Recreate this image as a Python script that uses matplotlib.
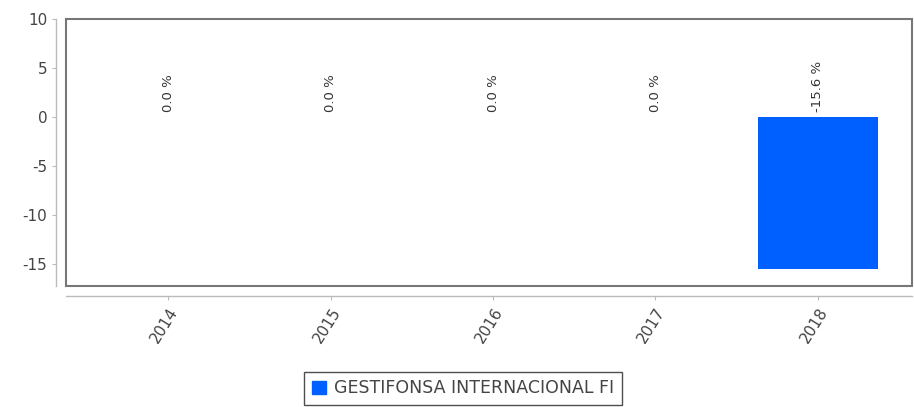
import matplotlib
matplotlib.use("Agg")
import matplotlib.pyplot as plt
from matplotlib.patches import Rectangle, Patch

plt.rcParams["axes.unicode_minus"] = False

years = ["2014", "2015", "2016", "2017", "2018"]
returns = [0.0, 0.0, 0.0, 0.0, -15.6]
series_name = "GESTIFONSA INTERNACIONAL FI"
bar_color = "#0060ff"

fig = plt.figure(figsize=(9.14, 4.07), dpi=100)
ax = fig.add_axes([66 / 914, 1 - 286 / 407, 846 / 914, 267 / 407])

x = range(len(years))
ax.bar(x, returns, width=0.74, color=bar_color, zorder=2)
ax.set_xlim(-0.63, 4.58)
ax.set_ylim(-17.3, 10)
ax.set_yticks([10, 5, 0, -5, -10, -15])
ax.set_xticks(list(x))
ax.set_xticklabels(years)

# inner frame
ax.add_patch(Rectangle((0, 0), 1, 1, transform=ax.transAxes, fill=False,
                       edgecolor="#777777", linewidth=1.5, zorder=3, clip_on=False))
for side in ["top", "right"]:
    ax.spines[side].set_visible(False)
for side in ["left", "bottom"]:
    ax.spines[side].set_position(("outward", 7))
    ax.spines[side].set_color("#bbbbbb")
    ax.spines[side].set_linewidth(1)
ax.tick_params(axis="both", colors="#bbbbbb", labelcolor="#444444", labelsize=11, length=3)
plt.setp(ax.get_xticklabels(), rotation=58, ha="right", rotation_mode="anchor")

for i, v in enumerate(returns):
    ax.text(i, 0.5, f"{v:.1f} %", rotation=90, ha="center", va="bottom",
            fontsize=9.5, color="#333333")

leg = fig.legend(handles=[Patch(facecolor=bar_color, edgecolor=bar_color)],
                 labels=[series_name], loc="upper center",
                 bbox_to_anchor=(463 / 914, 1 - 363 / 407), frameon=True,
                 fancybox=False, handlelength=0.8, handleheight=0.8,
                 handletextpad=0.5, borderpad=0.45,
                 prop={"family": ["Liberation Sans Narrow", "DejaVu Sans"], "size": 12.5})
leg.get_frame().set_edgecolor("#222222")
leg.get_frame().set_linewidth(1)
for t in leg.get_texts():
    t.set_color("#444444")

fig.savefig("out.png", dpi=100)
